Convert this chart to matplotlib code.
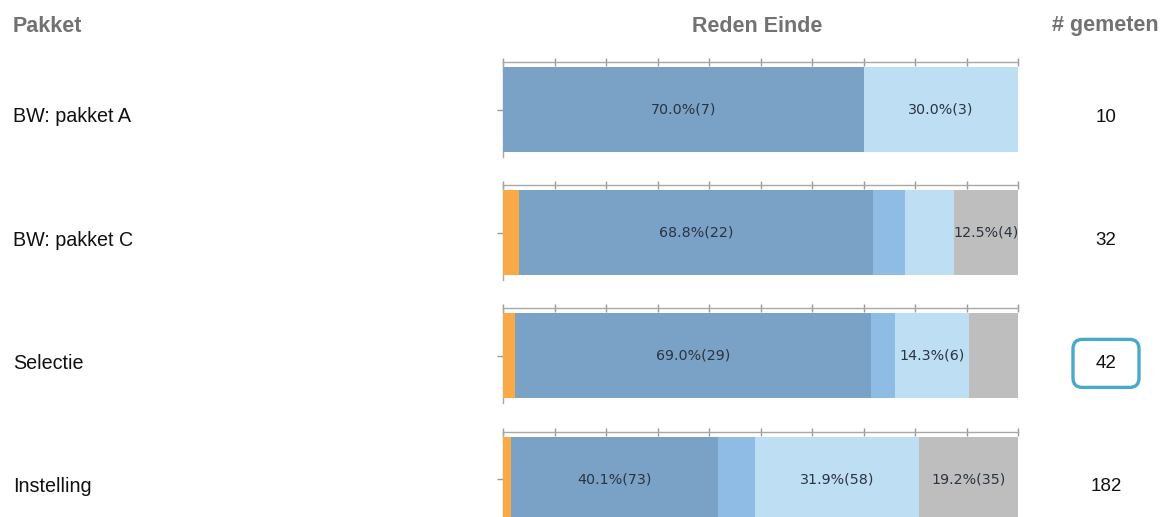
import matplotlib
matplotlib.use("Agg")
import matplotlib.pyplot as plt
from matplotlib.patches import FancyBboxPatch
import numpy as np

W, H = 1169, 517
packages = ["BW: pakket A", "BW: pakket C", "Selectie", "Instelling"]
cat_orange = [0, 1, 1, 3]
cat_dark = [7, 22, 29, 73]
cat_mid = [0, 2, 2, 13]
cat_light = [3, 3, 6, 58]
cat_gray = [0, 4, 4, 35]
colors = ["#F9A945", "#7AA1C6", "#8EBCE5", "#BEDEF3", "#BEBEBE"]
highlight = 2  # "Selectie" row is boxed

series = np.array([cat_orange, cat_dark, cat_mid, cat_light, cat_gray])
totals = series.sum(axis=0)

plt.rcParams["font.family"] = ["Liberation Sans", "DejaVu Sans"]
fig = plt.figure(figsize=(W / 100, H / 100), dpi=100)

def px(x, y):
    return x / W, 1 - y / H

hdr = dict(fontsize=15.5, fontweight="bold", color="#727272", va="center")
fig.text(*px(13, 26), "Pakket", ha="left", **hdr)
fig.text(*px(757, 26), "Reden Einde", ha="center", **hdr)
fig.text(*px(1105, 26), "# gemeten", ha="center", **hdr)

x0, x1 = 503, 1018
pitch = 123.2
for i, name in enumerate(packages):
    top = 62 + pitch * i
    ax = fig.add_axes([x0 / W, 1 - (top + 95) / H, (x1 - x0) / W, 95 / H])
    pct = series[:, i] / totals[i] * 100
    left = 0
    for k in range(len(series)):
        if series[k, i] > 0:
            ax.barh(0, pct[k], left=left, height=0.895, color=colors[k], zorder=3)
            if pct[k] >= 10:
                ax.text(left + pct[k] / 2, 0, f"{pct[k]:.1f}%({series[k, i]})", ha="center",
                        va="center", fontsize=10.3, color="#2B3440", family="DejaVu Sans", zorder=4)
        left += pct[k]
    ax.set_xlim(0, 100); ax.set_ylim(-0.5, 0.5)
    ax.xaxis.tick_top()
    ax.set_xticks(np.arange(0, 101, 10)); ax.set_xticklabels([])
    ax.set_yticks([0]); ax.set_yticklabels([])
    ax.tick_params(axis="x", direction="inout", length=6, color="#9A9A9A", width=1)
    ax.tick_params(axis="y", direction="out", length=4, color="#9A9A9A", width=1)
    for s in ("bottom", "right"):
        ax.spines[s].set_visible(False)
    for s in ("top", "left"):
        ax.spines[s].set_color("#A8A8A8"); ax.spines[s].set_linewidth(1)
    ax.set_facecolor("none")

    ycen = 117 + pitch * i
    fig.text(*px(13, ycen), name, ha="left", va="center", fontsize=14.2, color="#111111")
    fig.text(*px(1106, ycen), str(totals[i]), ha="center", va="center", fontsize=13.5, color="#111111")
    if i == highlight:
        bx, by = px(1073, ycen + 24)
        bw, bh = 66 / W, 48 / H
        fig.patches.append(FancyBboxPatch((bx, by), bw, bh, transform=fig.transFigure,
                                          boxstyle="round,pad=0,rounding_size=0.008",
                                          fc="none", ec="#4AA9C9", lw=2.4,
                                          mutation_aspect=W / H))

fig.savefig("out.png", dpi=100)
